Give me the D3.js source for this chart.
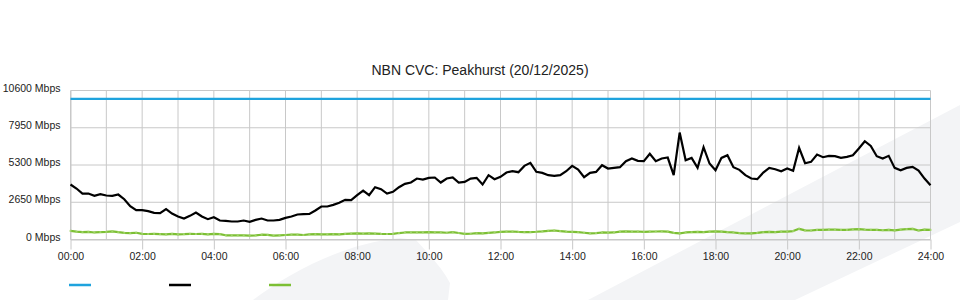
<!DOCTYPE html>
<html><head><meta charset="utf-8">
<script src="https://cdn.jsdelivr.net/npm/d3@7"></script>
<style>
html,body{margin:0;padding:0;background:#fff;}
svg{display:block;font-family:"Liberation Sans",Arial,Helvetica,sans-serif;}
</style></head><body>
<svg id="chart" width="960" height="300"></svg>
<script>
const title = "NBN CVC: Peakhurst (20/12/2025)";
const yTickValues = [0, 2650, 5300, 7950, 10600];
const xTickLabels = ["00:00","02:00","04:00","06:00","08:00","10:00","12:00","14:00","16:00","18:00","20:00","22:00","24:00"];
const sampleMinutes = 10;
const capacityTimes = [0, 1440];
const capacity = [10000, 10000];
const usage = [
3911,3626,3270,3270,3104,3223,3128,3104,3199,2867,
2369,2085,2085,2014,1895,1871,2156,1848,1634,1492,
1682,1919,1634,1445,1587,1350,1326,1279,1279,1350,
1255,1397,1492,1350,1350,1397,1540,1634,1777,1801,
1824,2061,2346,2346,2464,2607,2820,2796,3152,3484,
3152,3721,3579,3270,3389,3721,3958,4053,4337,4266,
4385,4409,4053,4337,4409,4053,4101,4337,4385,3911,
4575,4290,4456,
4764,4859,4788,5238,5452,4812,4740,
4575,4527,4575,4859,5238,4978,4432,4740,4812,5286,
5049,5096,5144,5570,5760,5594,5570,6092,5570,5760,
5831,4575,7609,5641,5807,5096,6566,5404,4930,5807,
5997,5144,4954,4575,4337,4290,4764,5096,5002,4859,
5049,4883,6519,5428,5523,6045,5855,5950,5926,5807,
5879,5997,6471,6993,6661,5926,5760,5950,5096,4930,
5096,5167,4907,4337,3863
];
const upload = [
610,560,520,540,500,530,
540,580,520,470,450,480,
400,390,400,380,360,400,
370,380,400,390,400,370,
400,380,300,290,300,290,
270,290,340,330,280,300,
320,340,340,320,360,380,
360,370,380,360,400,420,
430,420,440,420,400,390,
400,460,500,510,500,510,
520,500,510,480,520,460,
400,410,450,430,470,500,
540,560,570,540,520,530,
550,580,620,640,600,560,
540,520,480,440,460,500,
490,500,560,580,560,570,
540,560,570,580,560,470,
440,500,520,540,520,560,
580,560,520,500,460,440,
430,470,520,540,520,560,
560,600,760,650,640,680,
690,700,700,680,680,720,
740,700,690,690,660,690,
650,700,740,760,640,700,
680
];
const seriesColors = ["#1fa3dd", "#000000", "#7cbf34"];

const svg = d3.select("#chart");
const W = 960, H = 300;
const m = {left: 70.5, right: 930.5, top: 90.5, bottom: 239.5};

// decorative background swooshes
const bg = svg.append("g").attr("fill", "#f3f4f6");
bg.append("path").attr("d", "M253,300 C290,272 345,243 400,238 L416,240 C430,255 442,268 450,283 L448,300 Z");
bg.append("path").attr("d", "M588,300 L960,105 L960,222 L795,300 Z");

const x = d3.scaleLinear().domain([0, 1440]).range([m.left, m.right]);
const y = d3.scaleLinear().domain([0, 10600]).range([m.bottom, m.top]);

// grid
const grid = svg.append("g").attr("stroke", "#c8c8c8").attr("stroke-width", 1);
d3.range(0, 25).forEach(h => {
  grid.append("line").attr("x1", x(h*60)).attr("x2", x(h*60)).attr("y1", m.top).attr("y2", m.bottom);
});
yTickValues.forEach(v => {
  grid.append("line").attr("x1", m.left).attr("x2", m.right).attr("y1", y(v)).attr("y2", y(v));
});

// x axis
const xAxis = d3.axisBottom(x)
  .tickValues(xTickLabels.map((d, i) => i * 120))
  .tickFormat((d, i) => xTickLabels[i])
  .tickSize(10).tickSizeOuter(0);
const gx = svg.append("g").attr("transform", `translate(0,${m.bottom})`).call(xAxis);
gx.select(".domain").attr("stroke", "#c8c8c8");
gx.selectAll(".tick line").attr("stroke", "#c8c8c8");
gx.selectAll(".tick text").attr("fill", "#222").attr("font-size", "10.5px")
  .attr("font-family", '"Liberation Sans",Arial,sans-serif').attr("y", 13.5).attr("dy", "0.71em");

// y axis
const yAxis = d3.axisLeft(y).tickValues(yTickValues).tickFormat(d => d + " Mbps").tickSize(0);
const gy = svg.append("g").attr("transform", `translate(${m.left},0)`).call(yAxis);
gy.select(".domain").attr("stroke", "#c8c8c8");
gy.selectAll(".tick text").attr("fill", "#222").attr("font-size", "10.5px")
  .attr("font-family", '"Liberation Sans",Arial,sans-serif').attr("x", -10).attr("dy", "0.05em");

// title
svg.append("text").attr("x", 480).attr("y", 75).attr("text-anchor", "middle")
  .attr("font-size", "14px").attr("fill", "#222").text(title);

// lines
const line = d3.line().x(d => x(d[0])).y(d => y(d[1]));
const capData = capacityTimes.map((t, i) => [t, capacity[i]]);
const usageData = usage.map((v, i) => [i * sampleMinutes, v]);
const upData = upload.map((v, i) => [i * sampleMinutes, v]);

svg.append("path").datum(upData).attr("d", line).attr("fill", "none")
  .attr("stroke", seriesColors[2]).attr("stroke-width", 2.2).attr("stroke-linejoin", "round");
svg.append("g").selectAll("rect").data(upData).join("rect")
  .attr("x", d => x(d[0]) - 1).attr("y", d => y(d[1]) - 1).attr("width", 2).attr("height", 2)
  .attr("fill", "#a6d872").attr("opacity", 0.8);
svg.append("path").datum(usageData).attr("d", line).attr("fill", "none")
  .attr("stroke", seriesColors[1]).attr("stroke-width", 2.2).attr("stroke-linejoin", "miter");
svg.append("path").datum(capData).attr("d", line).attr("fill", "none")
  .attr("stroke", seriesColors[0]).attr("stroke-width", 2.2);

// legend swatches
const lg = svg.append("g");
seriesColors.forEach((c, i) => {
  lg.append("line").attr("x1", 69 + i * 100).attr("x2", 91 + i * 100)
    .attr("y1", 285).attr("y2", 285).attr("stroke", c).attr("stroke-width", 2.5);
});
</script>
</body></html>
